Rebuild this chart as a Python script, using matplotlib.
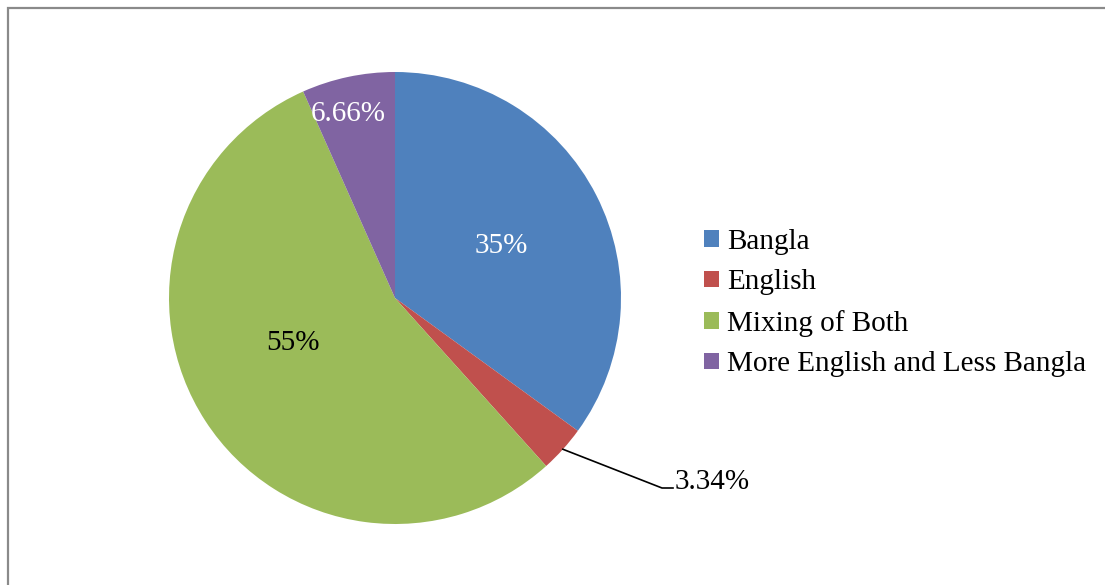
import numpy as np
import matplotlib.pyplot as plt
from matplotlib.patches import Rectangle

plt.rcParams['font.family'] = ['Liberation Serif', 'DejaVu Serif']

# language used in responses
labels = ['Bangla', 'English', 'Mixing of Both', 'More English and Less Bangla']
shares = [35, 3.34, 55, 6.66]
pct_text = ['35%', '3.34%', '55%', '6.66%']
colors = ['#4F81BD', '#C0504D', '#9BBB59', '#8064A2']

W, H = 1105, 585
fig = plt.figure(figsize=(W / 100, H / 100), dpi=100)
ax = fig.add_axes([0, 0, 1, 1])

cx, cy, r = 395, H - 298, 226
wedges, _ = ax.pie(shares, colors=colors, startangle=90, counterclock=False,
                   center=(cx, cy), radius=r, frame=True,
                   wedgeprops=dict(linewidth=0))
ax.set_xlim(0, W)
ax.set_ylim(0, H)
ax.set_aspect('equal')
ax.axis('off')

# chart area border (only top and left edges fall inside the image)
ax.add_patch(Rectangle((7.5, -20), W + 40, H - 7.5 + 20, fill=False,
                       edgecolor='#8a8a8a', linewidth=1.6, clip_on=False))

fs = 21
# inside labels: distance from centre as fraction of radius, angle nudge in degrees
inside = {0: (0.53, 0, 'white'), 2: (0.49, -10, 'black'), 3: (0.85, 2, 'white')}
for i, (frac, nudge, col) in inside.items():
    w = wedges[i]
    mid = np.deg2rad((w.theta1 + w.theta2) / 2 + nudge)
    ax.text(cx + frac * r * np.cos(mid), cy + frac * r * np.sin(mid) - 2, pct_text[i],
            color=col, fontsize=fs, ha='center', va='center')

# English slice gets an outside label with a leader line
w = wedges[1]
mid = np.deg2rad((w.theta1 + w.theta2) / 2)
x0, y0 = cx + r * np.cos(mid), cy + r * np.sin(mid)
ax.plot([x0, 662, 673], [y0, H - 488, H - 488], color='black', linewidth=1.2)
ax.text(675, H - 482, pct_text[1], fontsize=fs, ha='left', va='center')

leg = ax.legend(wedges, labels, loc='center left',
                bbox_to_anchor=(704 / W, (H - 303) / H), frameon=False,
                fontsize=fs, handlelength=0.5, handleheight=0.5,
                handletextpad=0.3, labelspacing=0.5, borderaxespad=0,
                borderpad=0)

plt.savefig('out.png', dpi=100)
